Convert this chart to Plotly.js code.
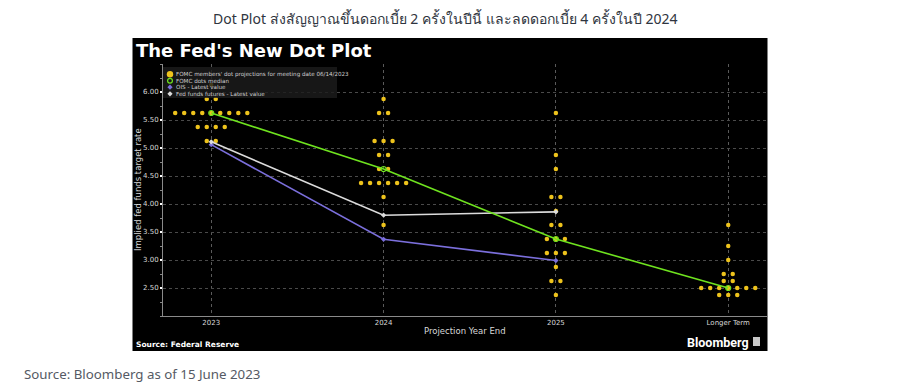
<!DOCTYPE html>
<html>
<head>
<meta charset="utf-8">
<script src="https://cdn.plot.ly/plotly-3.0.1.min.js"></script>
<style>html,body{margin:0;padding:0;background:#fff;}#chart{width:904px;height:391px;}</style>
</head>
<body>
<div id="chart"></div>
<script>
// ---- data ----
const categories = ['2023', '2024', '2025', 'Longer Term'];
const dotRates2023 = [6.125, 5.875, 5.625, 5.375, 5.125];
const dotCounts2023 = [1, 2, 9, 4, 2];
const dotRates2024 = [5.875, 5.625, 5.125, 4.875, 4.625, 4.375, 4.125, 3.625];
const dotCounts2024 = [1, 2, 3, 2, 2, 6, 1, 1];
const dotRates2025 = [5.625, 4.875, 4.625, 4.125, 3.875, 3.625, 3.375, 3.125, 2.875, 2.625, 2.375];
const dotCounts2025 = [1, 1, 1, 2, 1, 2, 3, 3, 1, 2, 1];
const dotRatesLonger = [3.625, 3.25, 3.0, 2.75, 2.625, 2.5, 2.375];
const dotCountsLonger = [1, 1, 1, 2, 2, 7, 3];
const medianValues = [5.625, 4.625, 3.375, 2.5];
const oisValues = [5.06, 3.37, 2.99];
const futuresValues = [5.11, 3.80, 3.86];
const yTickVals = [2.5, 3.0, 3.5, 4.0, 4.5, 5.0, 5.5, 6.0];
const yTickText = ['2.50', '3.00', '3.50', '4.00', '4.50', '5.00', '5.50', '6.00'];
const legendLabels = ["FOMC members' dot projections for meeting date 06/14/2023", 'FOMC dots median',
  'OIS - Latest value', 'Fed funds futures - Latest value'];

// ---- build dot positions (spread horizontally around each category) ----
const SPREAD = 0.0523;
const dotSets = [
  [dotRates2023, dotCounts2023],
  [dotRates2024, dotCounts2024],
  [dotRates2025, dotCounts2025],
  [dotRatesLonger, dotCountsLonger]
];
const dotX = [], dotY = [];
dotSets.forEach(([rates, counts], ci) => {
  rates.forEach((r, ri) => {
    const n = counts[ri];
    for (let k = 0; k < n; k++) {
      dotX.push(ci + (k - (n - 1) / 2) * SPREAD);
      dotY.push(r);
    }
  });
});
const catIdx = categories.map((c, i) => i);

const GOLD = '#eec31c';
const GREEN = '#6fe31f';
const PURPLE = '#7b6fdc';
const WHITE = '#dcdcdc';

const traces = [
  {x: dotX, y: dotY, type: 'scatter', mode: 'markers',
   marker: {color: GOLD, size: 4.5, line: {width: 0}}, hoverinfo: 'y', showlegend: false},
  {x: catIdx.slice(0, 3), y: oisValues, type: 'scatter', mode: 'lines+markers',
   line: {color: PURPLE, width: 1.6}, marker: {symbol: 'diamond', size: 4, color: PURPLE}, showlegend: false},
  {x: catIdx.slice(0, 3), y: futuresValues, type: 'scatter', mode: 'lines+markers',
   line: {color: WHITE, width: 1.6}, marker: {symbol: 'diamond', size: 4, color: WHITE}, showlegend: false},
  {x: catIdx, y: medianValues, type: 'scatter', mode: 'lines+markers',
   line: {color: GREEN, width: 1.6},
   marker: {symbol: 'circle-open', size: 5, color: GREEN, line: {width: 1.2, color: GREEN}}, showlegend: false}
];

// paper helpers: plot area px x 163..767, y 64..316
const L = 163, R = 767, T = 64, B = 316;
const px = v => (v - L) / (R - L);
const py = v => (B - v) / (B - T);

const FONT = 'DejaVu Sans, Liberation Sans, sans-serif';
const rowY = [74.3, 80.8, 87.2, 93.8];

const annotations = [
  {text: "<b>The Fed's New Dot Plot</b>", x: px(134), y: py(51), xref: 'paper', yref: 'paper',
   xanchor: 'left', yanchor: 'middle', showarrow: false,
   font: {family: FONT, size: 18, color: '#ffffff'}},
  {text: 'Implied fed funds target rate', x: px(138), y: py(190), xref: 'paper', yref: 'paper',
   xanchor: 'center', yanchor: 'middle', textangle: -90, showarrow: false,
   font: {family: FONT, size: 8.5, color: '#d8d8d8'}},
  {text: 'Projection Year End', x: px(465), y: py(331), xref: 'paper', yref: 'paper',
   xanchor: 'center', yanchor: 'middle', showarrow: false,
   font: {family: FONT, size: 8.5, color: '#d8d8d8'}},
  {text: '<b>Source: Federal Reserve</b>', x: px(134), y: py(344), xref: 'paper', yref: 'paper',
   xanchor: 'left', yanchor: 'middle', showarrow: false,
   font: {family: FONT, size: 7.5, color: '#ffffff'}},
  {text: '<b>Bloomberg</b>', x: px(751), y: py(342), xref: 'paper', yref: 'paper',
   xanchor: 'right', yanchor: 'middle', showarrow: false,
   font: {family: 'Roboto, ' + FONT, size: 12.5, color: '#ffffff'}},
  {text: 'Dot Plot ส่งสัญญาณขึ้นดอกเบี้ย 2 ครั้งในปีนี้ และลดดอกเบี้ย 4 ครั้งในปี 2024', x: px(445), y: py(19),
   xref: 'paper', yref: 'paper', xanchor: 'center', yanchor: 'middle', showarrow: false,
   font: {family: 'Noto Sans, ' + FONT, size: 14, color: '#2f3540'}},
  {text: 'Source: Bloomberg as of 15 June 2023', x: px(22), y: py(374), xref: 'paper', yref: 'paper',
   xanchor: 'left', yanchor: 'middle', showarrow: false,
   font: {family: 'Noto Sans, ' + FONT, size: 13.3, color: '#555a64'}}
];
legendLabels.forEach((t, i) => {
  annotations.push({text: t, x: px(175), y: py(rowY[i]), xref: 'paper', yref: 'paper',
    xanchor: 'left', yanchor: 'middle', showarrow: false, borderpad: 0,
    font: {family: FONT, size: 5.6, color: '#d0d0d0'}});
});

const sym = (type, i, size, fill, lineCol, lw) => ({
  type: type, xref: 'paper', yref: 'paper', xsizemode: 'pixel', ysizemode: 'pixel',
  xanchor: px(170), yanchor: py(rowY[i]),
  x0: -size, x1: size, y0: -size, y1: size,
  fillcolor: fill, line: {color: lineCol, width: lw}, layer: 'above'
});
const diamond = (i, size, fill) => ({
  type: 'path', xref: 'paper', yref: 'paper', xsizemode: 'pixel', ysizemode: 'pixel',
  xanchor: px(170), yanchor: py(rowY[i]),
  path: `M0,${size} L${size},0 L0,-${size} L-${size},0 Z`,
  fillcolor: fill, line: {width: 0}, layer: 'above'
});

const shapes = [
  {type: 'rect', xref: 'paper', yref: 'paper', x0: px(132.5), x1: px(767.5), y0: py(351), y1: py(38),
   fillcolor: '#000000', line: {width: 0}, layer: 'below'},
  {type: 'rect', xref: 'paper', yref: 'paper', x0: px(163), x1: px(337), y0: py(98), y1: py(67),
   fillcolor: 'rgba(28,28,28,0.82)', line: {width: 0}, layer: 'above'},
  sym('circle', 0, 3.2, GOLD, GOLD, 0),
  sym('circle', 1, 2.4, 'rgba(0,0,0,0)', GREEN, 1.2),
  diamond(2, 2.6, PURPLE),
  diamond(3, 2.6, WHITE),
  {type: 'rect', xref: 'paper', yref: 'paper', x0: px(753), x1: px(760), y0: py(346), y1: py(337),
   fillcolor: '#c8c8c8', line: {width: 0}, layer: 'above'}
];

const layout = {
  width: 904, height: 391,
  margin: {l: L, r: 904 - R, t: T, b: 391 - B, pad: 0},
  paper_bgcolor: '#ffffff',
  plot_bgcolor: '#000000',
  showlegend: false,
  xaxis: {
    range: [-0.28, 3.225], tickvals: catIdx, ticktext: categories,
    showgrid: true, gridcolor: '#5a5a5a', griddash: 'dot', gridwidth: 1,
    zeroline: false, showline: true, linecolor: '#8a8a8a', linewidth: 1,
    ticks: '', tickfont: {family: FONT, size: 7, color: '#d8d8d8'}, fixedrange: true
  },
  yaxis: {
    range: [2.0, 6.5], tickvals: yTickVals, ticktext: yTickText,
    showgrid: true, gridcolor: '#4a4a4a', griddash: 'dot', gridwidth: 1,
    zeroline: false, showline: true, linecolor: '#8a8a8a', linewidth: 1,
    ticks: 'outside', ticklen: 2, tickwidth: 2, tickcolor: '#ffffff',
    minor: {dtick: 0.25, tick0: 2.0, ticks: 'outside', ticklen: 2, tickwidth: 1, tickcolor: '#888', showgrid: false},
    tickfont: {family: FONT, size: 7, color: '#d8d8d8'}, fixedrange: true
  },
  annotations: annotations,
  shapes: shapes
};

Plotly.newPlot('chart', traces, layout, {displayModeBar: false, staticPlot: true});
</script>
</body>
</html>
